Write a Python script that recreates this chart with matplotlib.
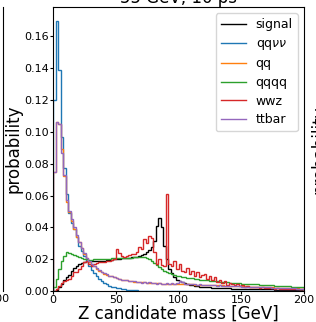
import numpy as np
import matplotlib
matplotlib.use("Agg")
import matplotlib.pyplot as plt
from matplotlib.lines import Line2D

# 2 GeV bins from 0 to 200
bin_edges = np.arange(0, 202, 2)

signal = [
    0.0000, 0.0008, 0.0025, 0.0045, 0.0068, 0.0085, 0.0098, 0.0125, 0.0145, 0.0160,
    0.0168, 0.0176, 0.0183, 0.0188, 0.0190, 0.0189, 0.0187, 0.0186, 0.0186, 0.0188,
    0.0190, 0.0192, 0.0194, 0.0196, 0.0199, 0.0202, 0.0204, 0.0206, 0.0207, 0.0208,
    0.0209, 0.0211, 0.0213, 0.0216, 0.0220, 0.0226, 0.0232, 0.0242, 0.0255, 0.0274,
    0.0316, 0.0410, 0.0460, 0.0400, 0.0280, 0.0200, 0.0140, 0.0110, 0.0086, 0.0072,
    0.0063, 0.0056, 0.0050, 0.0045, 0.0040, 0.0036, 0.0033, 0.0030, 0.0028, 0.0026,
    0.0024, 0.0023, 0.0022, 0.0021, 0.0020, 0.0019, 0.0018, 0.0018, 0.0017, 0.0016,
    0.0016, 0.0015, 0.0015, 0.0014, 0.0014, 0.0013, 0.0013, 0.0013, 0.0012, 0.0012,
    0.0012, 0.0011, 0.0011, 0.0011, 0.0010, 0.0010, 0.0010, 0.0010, 0.0009, 0.0009,
    0.0009, 0.0009, 0.0008, 0.0008, 0.0008, 0.0008, 0.0008, 0.0007, 0.0007, 0.0007,
]

qqvv = [
    0.1200, 0.1700, 0.1390, 0.0970, 0.0770, 0.0610, 0.0490, 0.0430, 0.0390, 0.0340,
    0.0280, 0.0250, 0.0220, 0.0190, 0.0160, 0.0135, 0.0110, 0.0093, 0.0075, 0.0062,
    0.0050, 0.0042, 0.0034, 0.0028, 0.0023, 0.0019, 0.0016, 0.0013, 0.0011, 0.0009,
    0.0007, 0.0006, 0.0005, 0.0004, 0.0003, 0.0003, 0.0002, 0.0002, 0.0002, 0.0001,
    0.0001, 0.0001, 0.0001, 0.0001, 0.0001, 0.0001, 0.0001, 0.0001, 0.0001, 0.0001,
    0.0001, 0.0001, 0.0001, 0.0001, 0.0001, 0.0000, 0.0000, 0.0000, 0.0000, 0.0000,
    0.0000, 0.0000, 0.0000, 0.0000, 0.0000, 0.0000, 0.0000, 0.0000, 0.0000, 0.0000,
    0.0000, 0.0000, 0.0000, 0.0000, 0.0000, 0.0000, 0.0000, 0.0000, 0.0000, 0.0000,
    0.0000, 0.0000, 0.0000, 0.0000, 0.0000, 0.0000, 0.0000, 0.0000, 0.0000, 0.0000,
    0.0000, 0.0000, 0.0000, 0.0000, 0.0000, 0.0000, 0.0000, 0.0000, 0.0000, 0.0000,
]

qq = [
    0.0750, 0.1060, 0.1050, 0.0890, 0.0720, 0.0560, 0.0495, 0.0440, 0.0390, 0.0340,
    0.0310, 0.0270, 0.0230, 0.0210, 0.0180, 0.0165, 0.0155, 0.0140, 0.0127, 0.0118,
    0.0107, 0.0101, 0.0096, 0.0092, 0.0086, 0.0080, 0.0076, 0.0072, 0.0069, 0.0066,
    0.0063, 0.0061, 0.0059, 0.0057, 0.0056, 0.0055, 0.0054, 0.0052, 0.0051, 0.0050,
    0.0049, 0.0048, 0.0048, 0.0047, 0.0046, 0.0046, 0.0045, 0.0045, 0.0044, 0.0044,
    0.0043, 0.0043, 0.0042, 0.0042, 0.0041, 0.0041, 0.0040, 0.0040, 0.0039, 0.0039,
    0.0038, 0.0038, 0.0037, 0.0037, 0.0036, 0.0036, 0.0035, 0.0035, 0.0034, 0.0034,
    0.0033, 0.0033, 0.0032, 0.0031, 0.0031, 0.0030, 0.0029, 0.0029, 0.0028, 0.0027,
    0.0027, 0.0026, 0.0025, 0.0025, 0.0024, 0.0023, 0.0023, 0.0022, 0.0021, 0.0021,
    0.0020, 0.0019, 0.0019, 0.0018, 0.0017, 0.0017, 0.0016, 0.0016, 0.0015, 0.0015,
]

qqqq = [
    0.0023, 0.0075, 0.0138, 0.0190, 0.0220, 0.0243, 0.0240, 0.0232, 0.0224, 0.0218,
    0.0212, 0.0206, 0.0201, 0.0198, 0.0196, 0.0197, 0.0198, 0.0199, 0.0200, 0.0201,
    0.0202, 0.0203, 0.0204, 0.0205, 0.0206, 0.0207, 0.0207, 0.0208, 0.0208, 0.0209,
    0.0210, 0.0210, 0.0211, 0.0212, 0.0214, 0.0216, 0.0212, 0.0207, 0.0200, 0.0190,
    0.0175, 0.0165, 0.0150, 0.0140, 0.0128, 0.0120, 0.0112, 0.0106, 0.0101, 0.0097,
    0.0094, 0.0090, 0.0087, 0.0084, 0.0081, 0.0079, 0.0076, 0.0074, 0.0072, 0.0070,
    0.0068, 0.0066, 0.0064, 0.0063, 0.0061, 0.0060, 0.0058, 0.0057, 0.0056, 0.0054,
    0.0053, 0.0052, 0.0051, 0.0050, 0.0049, 0.0047, 0.0046, 0.0045, 0.0044, 0.0043,
    0.0042, 0.0041, 0.0040, 0.0039, 0.0038, 0.0037, 0.0036, 0.0035, 0.0034, 0.0033,
    0.0032, 0.0031, 0.0030, 0.0030, 0.0029, 0.0028, 0.0027, 0.0026, 0.0026, 0.0025,
]

wwz = [
    0.0000, 0.0012, 0.0033, 0.0050, 0.0065, 0.0066, 0.0075, 0.0096, 0.0117, 0.0121,
    0.0138, 0.0155, 0.0180, 0.0190, 0.0172, 0.0160, 0.0168, 0.0175, 0.0184, 0.0180,
    0.0185, 0.0190, 0.0186, 0.0192, 0.0200, 0.0263, 0.0240, 0.0220, 0.0215, 0.0222,
    0.0228, 0.0235, 0.0230, 0.0245, 0.0274, 0.0263, 0.0326, 0.0300, 0.0348, 0.0330,
    0.0243, 0.0170, 0.0200, 0.0165, 0.0159, 0.0610, 0.0170, 0.0159, 0.0190, 0.0138,
    0.0170, 0.0127, 0.0117, 0.0142, 0.0107, 0.0127, 0.0096, 0.0117, 0.0086, 0.0100,
    0.0107, 0.0075, 0.0092, 0.0070, 0.0085, 0.0054, 0.0071, 0.0050, 0.0060, 0.0038,
    0.0050, 0.0045, 0.0035, 0.0042, 0.0030, 0.0036, 0.0028, 0.0032, 0.0025, 0.0028,
    0.0022, 0.0025, 0.0020, 0.0022, 0.0018, 0.0020, 0.0016, 0.0018, 0.0015, 0.0016,
    0.0014, 0.0015, 0.0013, 0.0013, 0.0012, 0.0012, 0.0011, 0.0011, 0.0010, 0.0010,
]

ttbar = [
    0.0750, 0.1060, 0.1050, 0.0870, 0.0730, 0.0570, 0.0500, 0.0450, 0.0400, 0.0350,
    0.0310, 0.0270, 0.0240, 0.0210, 0.0190, 0.0170, 0.0158, 0.0142, 0.0130, 0.0120,
    0.0110, 0.0104, 0.0095, 0.0094, 0.0088, 0.0082, 0.0078, 0.0070, 0.0072, 0.0066,
    0.0064, 0.0060, 0.0063, 0.0056, 0.0059, 0.0053, 0.0057, 0.0050, 0.0054, 0.0049,
    0.0052, 0.0046, 0.0050, 0.0047, 0.0044, 0.0049, 0.0045, 0.0050, 0.0046, 0.0048,
    0.0060, 0.0056, 0.0047, 0.0044, 0.0046, 0.0041, 0.0044, 0.0040, 0.0042, 0.0038,
    0.0040, 0.0036, 0.0038, 0.0035, 0.0037, 0.0034, 0.0035, 0.0033, 0.0034, 0.0032,
    0.0032, 0.0030, 0.0031, 0.0029, 0.0030, 0.0028, 0.0028, 0.0027, 0.0027, 0.0026,
    0.0025, 0.0025, 0.0024, 0.0024, 0.0023, 0.0022, 0.0022, 0.0021, 0.0021, 0.0020,
    0.0019, 0.0019, 0.0018, 0.0018, 0.0017, 0.0016, 0.0016, 0.0015, 0.0015, 0.0014,
]

samples = [
    ("signal", signal, "black"),
    ("qq$\\nu\\nu$", qqvv, "tab:blue"),
    ("qq", qq, "tab:orange"),
    ("qqqq", qqqq, "tab:green"),
    ("wwz", wwz, "tab:red"),
    ("ttbar", ttbar, "tab:purple"),
]

W, H = 316, 322
ax_top, ax_bot = 7, 291
ax_h = ax_bot - ax_top
fig = plt.figure(figsize=(W / 100, H / 100), dpi=100)
ax = fig.add_axes([53 / W, 1 - ax_bot / H, (304 - 53) / W, ax_h / H])

for name, vals, col in samples:
    ax.stairs(vals, bin_edges, color=col, linewidth=1.0, label=name)

ax.set_xlim(0, 200)
ax.set_ylim(0, 0.1785)
ax.set_xticks([0, 50, 100, 150, 200])
ax.set_yticks(np.arange(0, 0.17, 0.02))
ax.yaxis.set_major_formatter(matplotlib.ticker.FormatStrFormatter("%.2f"))
ax.tick_params(labelsize=8, length=2.2, pad=0.9)
ax.set_xlabel("Z candidate mass [GeV]", fontsize=12)
ax.set_ylabel("probability", fontsize=12)
ax.xaxis.set_label_coords(0.5, -13.5 / ax_h)
ax.yaxis.set_label_coords(-30 / 251, 0.5)
ax.set_title("55 GeV, 10 ps", fontsize=12, pad=3)
ax.legend(loc="upper right", fontsize=9, labelspacing=0.45)

# bits of the neighbouring panels that show at the crop edges
fig.add_artist(Line2D([2.5 / W, 2.5 / W], [1 - ax_top / H, 1 - ax_bot / H], color="black", linewidth=0.8))
fig.text(-1 / W, 1 - 299 / H, "200", fontsize=8, ha="center", va="center")
fig.text(310 / W, 1 - 150 / H, "probability", fontsize=12, rotation=90, ha="left", va="center")

fig.savefig("out.png", dpi=100)
